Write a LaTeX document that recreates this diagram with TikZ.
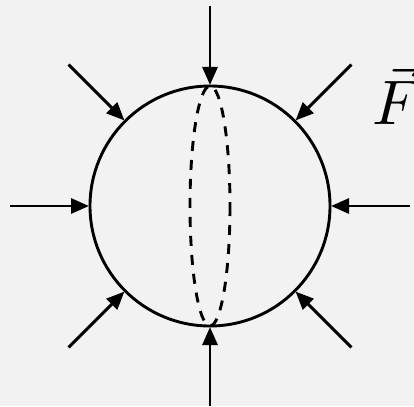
\documentclass[tikz,border=0pt]{standalone}
\usepackage{graphicx}
\usetikzlibrary{arrows.meta,calc}
\definecolor{bg}{HTML}{F2F2F2}
\begin{document}
\begin{tikzpicture}[x=1pt,y=-1pt,
  force/.style={line width=2.9pt,-{Triangle[length=18pt,width=15pt]}},
  ball/.style={line width=2.9pt},
  meridian/.style={line width=2.9pt,dash pattern=on 10pt off 9pt}]
\fill[bg] (0,0) rectangle (414,406);
\useasboundingbox (0,0) rectangle (414,406);
\coordinate (c) at (210,206);
\draw[ball] (c) circle[radius=120];
\draw[meridian] (c) ellipse[x radius=20,y radius=120];
\foreach \a in {0,45,...,315}{
  \coordinate (s\a) at ($(c)+(\a:200)$);
  \coordinate (e\a) at ($(c)+(\a:121)$);
  \draw[force] (s\a) -- (e\a);
}
\node[anchor=base west,inner sep=0pt] (F) at (372,125) {\scalebox{6.3}{$\vec{F}$}};
\end{tikzpicture}
\end{document}
